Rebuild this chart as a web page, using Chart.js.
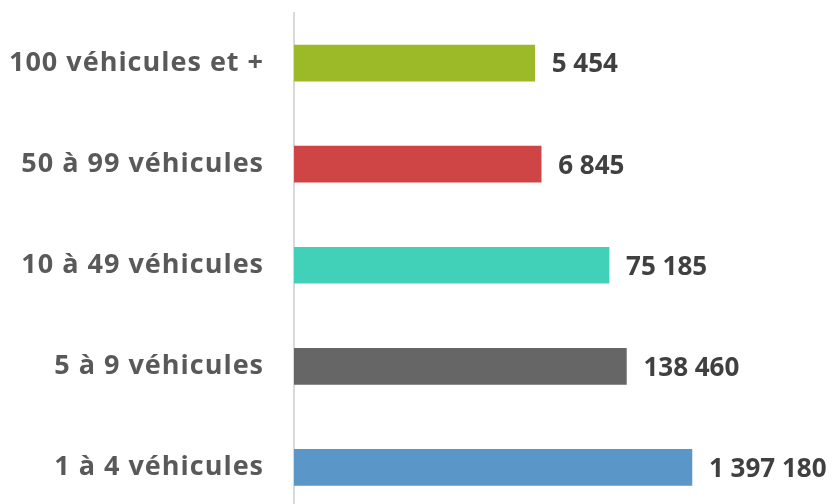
<!DOCTYPE html>
<html><head><meta charset="utf-8">
<script src="https://cdn.jsdelivr.net/npm/chart.js@4/dist/chart.umd.min.js"></script>
<style>html,body{margin:0;padding:0;background:#fff;overflow:hidden;}#wrap{width:834px;height:518px;position:relative;}canvas{display:block;}</style>
</head><body>
<div id="wrap"><canvas id="c" style="width:834px;height:518px"></canvas></div>
<script>
const categories = ["100 véhicules et +", "50 à 99 véhicules", "10 à 49 véhicules", "5 à 9 véhicules", "1 à 4 véhicules"];
const values = [5454, 6845, 75185, 138460, 1397180];
const colors = ["#9CB927", "#CF4444", "#41D1B9", "#666666", "#5B96C9"];

function fmt(v){ return String(v).replace(/\B(?=(\d{3})+(?!\d))/g, " "); }

const labelsPlugin = {
  id: 'labelsPlugin',
  afterDatasetsDraw(chart){
    const ctx = chart.ctx;
    const meta = chart.getDatasetMeta(0);
    const yScale = chart.scales.y;
    ctx.save();
    ctx.textBaseline = "middle";
    // value labels
    ctx.font = "700 26px 'Open Sans'";
    ctx.fillStyle = "#404040";
    ctx.textAlign = "left";
    meta.data.forEach((bar, i) => {
      ctx.fillText(fmt(values[i]), bar.x + 17, bar.y + 2);
    });
    // category labels
    ctx.font = "700 27px 'Open Sans'";
    ctx.fillStyle = "#595959";
    ctx.textAlign = "right";
    if ('letterSpacing' in ctx) ctx.letterSpacing = "1px";
    categories.forEach((c, i) => {
      ctx.fillText(c, yScale.right - 30, yScale.getPixelForTick(i));
    });
    ctx.restore();
  }
};

new Chart(document.getElementById('c'), {
  type: 'bar',
  data: {
    labels: categories,
    datasets: [{ data: values, backgroundColor: colors, barThickness: 36, borderWidth: 0 }]
  },
  options: {
    indexAxis: 'y',
    responsive: false,
    maintainAspectRatio: false,
    animation: false,
    layout: { padding: { top: 12.5, right: 21, bottom: 0, left: 0 } },
    plugins: { legend: { display: false }, tooltip: { enabled: false } },
    scales: {
      x: { type: 'logarithmic', min: 1.12, max: 1e8, display: false },
      y: {
        afterFit(scale){ scale.width = 294; },
        grid: { display: false, drawTicks: false },
        border: { display: true, color: '#D9D9D9', width: 2 },
        ticks: { display: false }
      }
    }
  },
  plugins: [labelsPlugin]
});
</script>
</body></html>
